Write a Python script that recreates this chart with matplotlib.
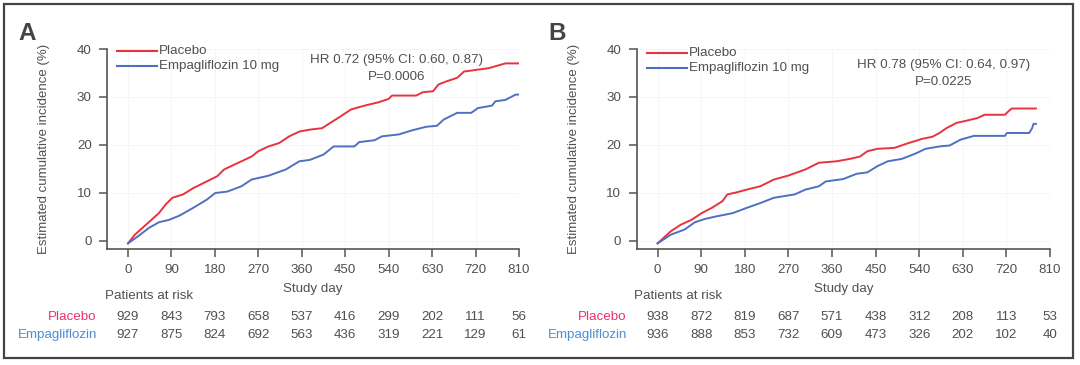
import matplotlib
matplotlib.use("Agg")
import matplotlib.pyplot as plt
import matplotlib.transforms as mtransforms
from matplotlib.patches import Rectangle

plt.rcParams['font.family'] = ['Liberation Sans', 'DejaVu Sans']

# ---- data ----
days = [0, 90, 180, 270, 360, 450, 540, 630, 720, 810]

# Panel A
a_plac_x = [0, 14, 43, 64, 78, 92, 114, 135, 163, 185, 199, 220, 235, 256, 270, 291, 313, 334,
            355, 377, 402, 419, 441, 462, 490, 519, 540, 547, 597, 611, 632, 643, 661, 682,
            696, 747, 782, 810]
a_plac_y = [-0.5, 1.3, 3.9, 5.8, 7.6, 9.0, 9.7, 11.0, 12.4, 13.5, 14.9, 15.9, 16.6, 17.6, 18.7,
            19.7, 20.4, 21.8, 22.8, 23.2, 23.5, 24.6, 26.0, 27.4, 28.2, 28.9, 29.6, 30.3, 30.3,
            31.0, 31.2, 32.6, 33.3, 34.0, 35.3, 36.0, 37.0, 37.0]
a_empa_x = [0, 21, 43, 64, 85, 107, 135, 163, 181, 206, 235, 256, 291, 327, 355, 377, 405, 426,
            469, 479, 511, 526, 561, 590, 618, 640, 654, 682, 711, 725, 754, 761, 782, 803, 810]
a_empa_y = [-0.5, 1.0, 2.7, 3.9, 4.4, 5.3, 6.9, 8.6, 10.0, 10.3, 11.4, 12.8, 13.6, 14.9, 16.6,
            16.9, 18.0, 19.7, 19.7, 20.6, 21.0, 21.8, 22.2, 23.1, 23.8, 24.0, 25.3, 26.7, 26.7,
            27.7, 28.2, 29.1, 29.4, 30.5, 30.5]
a_risk_plac = [929, 843, 793, 658, 537, 416, 299, 202, 111, 56]
a_risk_empa = [927, 875, 824, 692, 563, 436, 319, 221, 129, 61]

# Panel B
b_plac_x = [0, 27, 48, 70, 91, 112, 134, 144, 162, 184, 212, 240, 269, 305, 333, 369, 397, 418,
            433, 454, 489, 518, 547, 567, 582, 596, 617, 639, 660, 675, 717, 724, 731, 781]
b_plac_y = [-0.5, 2.0, 3.4, 4.4, 5.8, 6.9, 8.3, 9.7, 10.1, 10.7, 11.4, 12.8, 13.6, 14.9, 16.3,
            16.6, 17.1, 17.6, 18.7, 19.2, 19.4, 20.4, 21.3, 21.7, 22.5, 23.5, 24.6, 25.1, 25.6,
            26.3, 26.3, 27.0, 27.6, 27.6]
b_empa_x = [0, 27, 56, 77, 98, 120, 155, 184, 212, 240, 283, 305, 333, 347, 383, 411, 433, 454,
            475, 504, 532, 553, 582, 603, 625, 653, 717, 721, 767, 773, 776, 781]
b_empa_y = [-0.5, 1.3, 2.4, 3.9, 4.6, 5.1, 5.8, 6.9, 7.9, 9.0, 9.7, 10.7, 11.4, 12.4, 12.9, 14.0,
            14.3, 15.6, 16.6, 17.1, 18.2, 19.2, 19.7, 19.9, 21.1, 21.9, 21.9, 22.5, 22.5, 23.5,
            24.4, 24.4]
b_risk_plac = [938, 872, 819, 687, 571, 438, 312, 208, 113, 53]
b_risk_empa = [936, 888, 853, 732, 609, 473, 326, 202, 102, 40]

RED = '#e8333f'
BLUE = '#4f70c0'
LBL_RED = '#e8336b'
LBL_BLUE = '#4a8fd6'
GREY = '#555555'
TXT = '#505050'
FS = 9.6

W, H = 1080, 365


def fx(px):
    return px / W


def fy(py):
    return 1 - py / H


fig = plt.figure(figsize=(10.8, 3.65), dpi=100)


def panel(left_px, right_px, letter, letter_px, plac, empa, hr, p, hr_px, leg_px,
          risk_plac, risk_empa, lbl_right_px):
    ax = fig.add_axes([fx(left_px), fy(249), fx(right_px - left_px), (249 - 49) / H])
    ax.plot(plac[0], plac[1], color=RED, lw=1.4)
    ax.plot(empa[0], empa[1], color=BLUE, lw=1.4)
    ax.set_xlim(-43.5, 810)
    ax.set_ylim(-1.67, 40)
    ax.set_xticks(days)
    ax.set_yticks([0, 10, 20, 30, 40])
    for s in ['top', 'right']:
        ax.spines[s].set_visible(False)
    for s in ['left', 'bottom']:
        ax.spines[s].set_color(GREY)
        ax.spines[s].set_linewidth(1.2)
    ax.tick_params(colors=GREY, labelsize=FS, length=6, width=1.1, labelcolor=TXT, pad=5)
    ax.grid(color='#f6f6f6', lw=0.8)
    ax.set_axisbelow(True)
    ax.set_ylabel('Estimated cumulative incidence (%)', fontsize=9.5, color=TXT, labelpad=19)

    # panel letter
    fig.text(fx(letter_px), fy(33), letter, fontsize=17.5, fontweight='bold', color='#444444',
             va='center', ha='left')

    # legend
    lx0, lx1, ly = leg_px
    for yy, col, txt in [(ly, RED, 'Placebo'), (ly + 15, BLUE, 'Empagliflozin 10 mg')]:
        fig.add_artist(plt.Line2D([fx(lx0), fx(lx1)], [fy(yy), fy(yy)], color=col, lw=1.5))
        fig.text(fx(lx1 + 2), fy(yy), txt, fontsize=FS, color=TXT, va='center', ha='left')

    # HR annotation
    hx, hy = hr_px
    fig.text(fx(hx), fy(hy), hr, fontsize=FS, color=TXT, ha='center', va='center')
    fig.text(fx(hx), fy(hy + 17), p, fontsize=FS, color=TXT, ha='center', va='center')

    ax.set_xlabel('Study day', fontsize=FS, color=TXT, labelpad=5)

    # patients at risk table
    trans = mtransforms.blended_transform_factory(ax.transData, fig.transFigure)
    fig.text(fx(left_px - 2), fy(296), 'Patients at risk', fontsize=FS, color=TXT,
             ha='left', va='center')
    for d, n1, n2 in zip(days, risk_plac, risk_empa):
        ax.text(d, fy(317), str(n1), transform=trans, fontsize=FS, color=TXT,
                ha='center', va='center')
        ax.text(d, fy(335), str(n2), transform=trans, fontsize=FS, color=TXT,
                ha='center', va='center')
    fig.text(fx(lbl_right_px), fy(317), 'Placebo', fontsize=FS, color=LBL_RED,
             ha='right', va='center')
    fig.text(fx(lbl_right_px + 1), fy(335), 'Empagliflozin', fontsize=FS, color=LBL_BLUE,
             ha='right', va='center')
    return ax


panel(107, 519, 'A', 18, (a_plac_x, a_plac_y), (a_empa_x, a_empa_y),
      'HR 0.72 (95% CI: 0.60, 0.87)', 'P=0.0006', (397, 60), (117, 157, 51),
      a_risk_plac, a_risk_empa, 96)
panel(636.5, 1050, 'B', 548, (b_plac_x, b_plac_y), (b_empa_x, b_empa_y),
      'HR 0.78 (95% CI: 0.64, 0.97)', 'P=0.0225', (944, 65), (647, 687, 53),
      b_risk_plac, b_risk_empa, 626)

# outer frame
fig.add_artist(Rectangle((fx(4), fy(358)), fx(1073 - 4), (358 - 4) / H, fill=False,
                         ec='#444444', lw=1.6, transform=fig.transFigure))

fig.savefig('out.png', dpi=100)
